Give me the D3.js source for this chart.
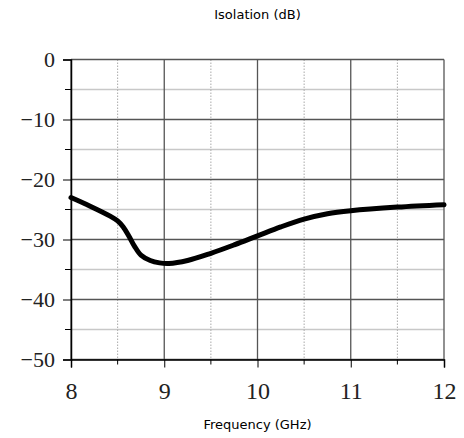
<!DOCTYPE html>
<meta charset="utf-8">
<style>
    body { margin: 0; background: #fff; }
    svg { display: block; }
    .tick text { font-family: 'Liberation Serif', serif; }
    .title { font-family: 'DejaVu Sans', sans-serif; font-size: 13px; }
</style>
<body>
<div id="chart"></div>
<script src="https://d3js.org/d3.v7.min.js"></script>
<script>
    // isolation curve
    var freq = [8.0, 8.2, 8.42, 8.5, 8.56, 8.62, 8.68, 8.75, 8.85, 8.95, 9.05, 9.25, 9.5, 9.75, 10.0, 10.25, 10.5, 10.75, 11.0, 11.5, 12.0]
    var isolation = [-23.0, -24.4, -26.1, -26.9, -27.9, -29.4, -31.1, -32.6, -33.5, -33.9, -34.0, -33.5, -32.3, -30.9, -29.4, -27.9, -26.6, -25.7, -25.2, -24.6, -24.2]

    var xMajor = [8, 9, 10, 11, 12]
    var xMinor = [8.5, 9.5, 10.5, 11.5]
    var yMajor = [0, -10, -20, -30, -40, -50]
    var yMinor = [-5, -15, -25, -35, -45]

    var width = 464, height = 438
    var margin = { top: 59.5, right: 20, bottom: 78.5, left: 71 }

    var x = d3.scaleLinear().domain([8, 12]).range([margin.left, width - margin.right])
    var y = d3.scaleLinear().domain([-50, 0]).range([height - margin.bottom, margin.top])

    var svg = d3.select('#chart').append('svg')
        .attr('width', width)
        .attr('height', height)

    // minor grid
    svg.append('g').selectAll('line')
        .data(yMinor).enter().append('line')
        .attr('x1', x(8)).attr('x2', x(12))
        .attr('y1', function (d) { return y(d) }).attr('y2', function (d) { return y(d) })
        .style('stroke', '#c8c8c8').style('stroke-width', 1.5)

    svg.append('g').selectAll('line')
        .data(xMinor).enter().append('line')
        .attr('x1', function (d) { return x(d) }).attr('x2', function (d) { return x(d) })
        .attr('y1', y(0)).attr('y2', y(-50))
        .style('stroke', '#aaa').style('stroke-width', 1)
        .style('stroke-dasharray', '1.5,1.5')

    // major grid
    svg.append('g').selectAll('line')
        .data(yMajor).enter().append('line')
        .attr('x1', x(8)).attr('x2', x(12))
        .attr('y1', function (d) { return y(d) }).attr('y2', function (d) { return y(d) })
        .style('stroke', '#555').style('stroke-width', 1.3)

    svg.append('g').selectAll('line')
        .data(xMajor).enter().append('line')
        .attr('x1', function (d) { return x(d) }).attr('x2', function (d) { return x(d) })
        .attr('y1', y(0)).attr('y2', y(-50))
        .style('stroke', '#555').style('stroke-width', 1.3)

    // axes
    var xAxis = d3.axisBottom(x).tickValues(xMajor).tickSize(8).tickPadding(14).tickFormat(d3.format('d'))
    var yAxis = d3.axisLeft(y).tickValues(yMajor).tickSize(8).tickPadding(8).tickFormat(d3.format('d'))

    var gx = svg.append('g')
        .attr('transform', 'translate(0,' + y(-50) + ')')
        .call(xAxis)
    gx.select('.domain').attr('stroke', '#000').attr('stroke-width', 1.5)
    gx.selectAll('.tick text').style('font-size', '24px').attr('fill', '#222')
    gx.append('g').selectAll('line')
        .data(xMinor).enter().append('line')
        .attr('x1', function (d) { return x(d) }).attr('x2', function (d) { return x(d) })
        .attr('y1', 0).attr('y2', 5)
        .style('stroke', '#000')

    var gy = svg.append('g')
        .attr('transform', 'translate(' + x(8) + ',0)')
        .call(yAxis)
    gy.select('.domain').attr('stroke', '#000').attr('stroke-width', 1.5)
    gy.selectAll('.tick text').style('font-size', '22px').attr('fill', '#222')
    gy.append('g').selectAll('line')
        .data(yMinor).enter().append('line')
        .attr('x1', -6).attr('x2', 0)
        .attr('y1', function (d) { return y(d) }).attr('y2', function (d) { return y(d) })
        .style('stroke', '#000')

    // curve
    var line = d3.line()
        .x(function (d, i) { return x(freq[i]) })
        .y(function (d) { return y(d) })
        .curve(d3.curveCatmullRom.alpha(0.5))

    svg.append('path')
        .datum(isolation)
        .attr('d', line)
        .style('fill', 'none')
        .style('stroke', '#000')
        .style('stroke-width', 5)
        .style('stroke-linecap', 'round')

    // titles
    svg.append('text')
        .attr('class', 'title')
        .attr('x', (x(8) + x(12)) / 2)
        .attr('y', 19)
        .attr('text-anchor', 'middle')
        .text('Isolation (dB)')

    svg.append('text')
        .attr('class', 'title')
        .attr('x', (x(8) + x(12)) / 2)
        .attr('y', 429)
        .attr('text-anchor', 'middle')
        .text('Frequency (GHz)')
</script>
</body>
